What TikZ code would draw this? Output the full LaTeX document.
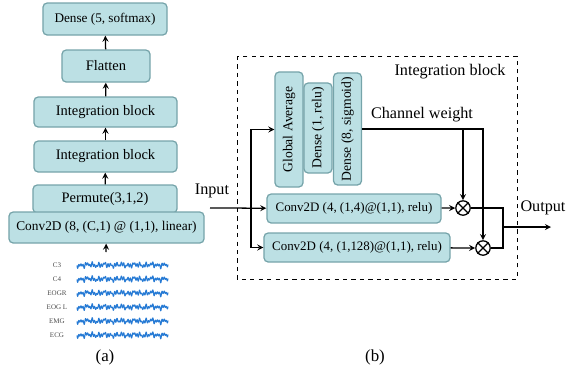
\documentclass[tikz,border=0pt]{standalone}
\usepackage{fontspec}
\setmainfont{Liberation Serif}
\usepackage{tikz}
\usetikzlibrary{arrows,shapes,positioning}
\usepackage{xcolor}
\definecolor{layerfill}{RGB}{188,224,228}
\definecolor{layerdraw}{RGB}{118,164,170}
\definecolor{wavblue}{RGB}{38,122,212}
\tikzstyle{layer} = [rectangle, rounded corners=3pt, draw=layerdraw, fill=layerfill, line width=0.9pt, inner sep=0pt, text centered]
\tikzstyle{vlayer} = [layer, rotate=90, minimum height=0.7cm, font=\fontsize{9.7}{11}\selectfont]
\tikzstyle{arrow} = [line width=0.9pt,->,>=stealth]
\tikzstyle{line} = [line width=0.9pt]
\tikzstyle{mul} = [circle, draw, line width=0.9pt, minimum size=0.36cm, inner sep=0pt]
\tikzstyle{siglabel} = [font=\fontsize{5}{6}\selectfont, text=black!70]
\tikzstyle{wave} = [wavblue, line width=0.75pt, line join=round]

\begin{document}
\begin{tikzpicture}[x=0.025cm, y=-0.025cm, font=\fontsize{10.3}{12}\selectfont]
\useasboundingbox (0,0) rectangle (567,377);
% (a) network
\node (dense) [layer, minimum width=3.1cm, minimum height=0.8cm, font=\fontsize{9.4}{11}\selectfont] at (105,19) {Dense (5, softmax)};
\node (flatten) [layer, minimum width=2.2cm, minimum height=0.8cm] at (106,66) {Flatten};
\node (intb1) [layer, minimum width=3.575cm, minimum height=0.75cm] at (105.5,112) {Integration block};
\node (intb2) [layer, minimum width=3.575cm, minimum height=0.775cm] at (105.5,156.5) {Integration block};
\node (permute) [layer, minimum width=3.6cm, minimum height=0.7cm] at (105,199) {Permute(3,1,2)};
\node (conv8) [layer, minimum width=4.875cm, minimum height=0.775cm, font=\fontsize{9.5}{11}\selectfont] at (106.5,227.5) {Conv2D (8, (C,1) @ (1,1), linear)};
\coordinate (sig) at (106,252);
\draw [arrow] (flatten) -- (dense);
\draw [arrow] (intb1) -- (flatten);
\draw [arrow] (intb2) -- (intb1);
\draw [arrow] (permute) -- (intb2);
\draw [arrow] (sig) -- (conv8);
% input signals
\foreach \lab [count=\i] in {C3,C4,EOGR,EOG L,EMG,ECG} {
  \node (lab\i) [siglabel] at (57,251+14*\i) {\lab};
  \draw [wave, shift={(77,251+14*\i)}] plot[domain=0:91, samples=300] (\x, {1.5*sin(\x*160)+1.1*sin(\x*61+30)+0.8*sin(\x*113)+0.6*sin(\x*23)});
}
\node (capa) at (105,357) {\fontsize{12}{14}\selectfont (a)};

% (b) integration block
\draw [line, dashed, line width=0.6pt] (237,56) rectangle (517,279);
\node (blockname) [font=\fontsize{11.5}{13}\selectfont] at (450,72) {Integration block};
\node (gap) [vlayer, minimum width=2.875cm] at (289,129.5) {Global Average};
\node (drelu) [vlayer, minimum width=2.25cm] at (318,128) {Dense (1, relu)};
\node (dsig) [vlayer, minimum width=2.8cm] at (347.5,129) {Dense (8, sigmoid)};
\node (cwlabel) [font=\fontsize{11.5}{13}\selectfont] at (422,115) {Channel weight};
\node (conv4) [layer, minimum width=4.35cm, minimum height=0.725cm, font=\fontsize{9.2}{11}\selectfont] at (354,208.5) {Conv2D (4, (1,4)@(1,1), relu)};
\node (conv128) [layer, minimum width=4.65cm, minimum height=0.725cm, font=\fontsize{9.2}{11}\selectfont] at (357,247.5) {Conv2D (4, (1,128)@(1,1), relu)};
\node (mul1) [mul] at (463,208) {};
\node (mul2) [mul] at (483,248) {};
\foreach \m in {mul1,mul2} {
  \draw [line] (\m.45) -- (\m.225) (\m.135) -- (\m.315);
}
\node (inlabel) [font=\fontsize{11.5}{13}\selectfont] at (212,191) {Input};
\node (outlabel) [font=\fontsize{11.5}{13}\selectfont] at (543,208) {Output};
\coordinate (in) at (210,208);
\coordinate (split) at (251,208);
\coordinate (join) at (503,227);
\coordinate (out) at (551,227);
\draw [arrow] (in) -- (conv4);
\draw [arrow] (split) |- (gap.north);
\draw [arrow] (split) |- (conv128);
\draw [arrow] (dsig.south) -| (mul2);
\draw [arrow] (mul1 |- dsig.south) -- (mul1);
\draw [arrow] (conv4) -- (mul1);
\draw [arrow] (conv128) -- (mul2);
\draw [line] (mul1) -| (join);
\draw [line] (mul2) -| (join);
\draw [arrow] (join) -- (out);
\node (capb) at (375,357) {\fontsize{12}{14}\selectfont (b)};
\end{tikzpicture}
\end{document}
